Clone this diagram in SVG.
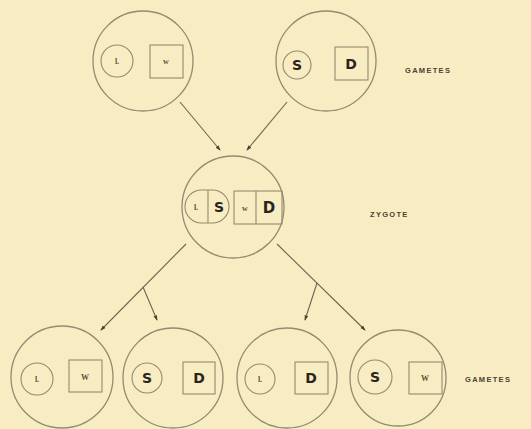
<svg xmlns="http://www.w3.org/2000/svg" width="531" height="429" viewBox="0 0 531 429">
<defs>
<style>
.bg{fill:#f8ecc2}
.c{fill:none;stroke:#948a70;stroke-width:1.3}
.i{fill:none;stroke:#948a70;stroke-width:1.1}
.ln{fill:none;stroke:#6e6450;stroke-width:1.1}
.b{font-family:"DejaVu Sans",sans-serif;font-weight:bold;font-size:14px;fill:#2a251c;text-anchor:middle}
.s{font-family:"Liberation Serif",serif;font-weight:bold;font-size:8px;fill:#5a5240;text-anchor:middle}
.lab{font-family:"Liberation Sans",sans-serif;font-weight:bold;font-size:7.5px;letter-spacing:1.3px;fill:#4a4332}
</style>
<marker id="a" viewBox="0 0 6 6" refX="5" refY="3" markerWidth="5" markerHeight="5" orient="auto">
<path d="M0,1 L6,3 L0,5 z" fill="#4a4332"/>
</marker>
</defs>
<rect class="bg" x="0" y="0" width="531" height="429"/>
<g id="connectors">
<line class="ln" x1="180" y1="102" x2="220" y2="150" marker-end="url(#a)"/>
<line class="ln" x1="287" y1="102" x2="247" y2="150" marker-end="url(#a)"/>
<line class="ln" x1="186" y1="244" x2="101" y2="330" marker-end="url(#a)"/>
<line class="ln" x1="143" y1="287" x2="157" y2="320" marker-end="url(#a)"/>
<line class="ln" x1="277" y1="244" x2="365" y2="330" marker-end="url(#a)"/>
<line class="ln" x1="317" y1="283" x2="305" y2="320" marker-end="url(#a)"/>
</g>
<g id="gamete-top-left">
<circle class="c" cx="143" cy="61" r="50"/>
<circle class="i" cx="117" cy="61" r="16"/>
<text class="s" x="117" y="64">l.</text>
<rect class="i" x="150" y="45" width="33" height="33"/>
<text class="s" x="166" y="64">w</text>
</g>
<g id="gamete-top-right">
<circle class="c" cx="326" cy="61" r="50"/>
<circle class="i" cx="297" cy="65" r="14"/>
<text class="b" x="297" y="70">S</text>
<rect class="i" x="335" y="47" width="33" height="33"/>
<text class="b" x="351" y="69">D</text>
</g>
<text id="label-gametes-top" class="lab" x="405" y="73">GAMETES</text>
<g id="zygote">
<circle class="c" cx="233" cy="207" r="51"/>
<path class="i" d="M201.5,190 H212.5 A16.5,16.5 0 0 1 212.5,223 H201.5 A16.5,16.5 0 0 1 201.5,190 Z"/>
<line class="i" x1="208" y1="190" x2="208" y2="223"/>
<text class="s" x="196" y="210">l.</text>
<text class="b" x="219" y="212">S</text>
<rect class="i" x="234" y="191" width="48" height="33"/>
<line class="i" x1="256" y1="191" x2="256" y2="224"/>
<text class="s" x="245" y="211">w</text>
<text class="b" x="269" y="213" style="font-size:15px">D</text>
</g>
<text id="label-zygote" class="lab" x="370" y="217">ZYGOTE</text>
<g id="gamete-bottom-1">
<circle class="c" cx="62" cy="377" r="51"/>
<circle class="i" cx="37" cy="379" r="16"/>
<text class="s" x="37" y="382">l.</text>
<rect class="i" x="69" y="360" width="33" height="32"/>
<text class="s" x="85" y="380">W</text>
</g>
<g id="gamete-bottom-2">
<circle class="c" cx="173" cy="378" r="50"/>
<circle class="i" cx="147" cy="378" r="15"/>
<text class="b" x="147" y="383">S</text>
<rect class="i" x="183" y="362" width="32" height="32"/>
<text class="b" x="199" y="383">D</text>
</g>
<g id="gamete-bottom-3">
<circle class="c" cx="287" cy="378" r="50"/>
<circle class="i" cx="260" cy="379" r="15"/>
<text class="s" x="260" y="382">l.</text>
<rect class="i" x="295" y="362" width="33" height="32"/>
<text class="b" x="311" y="383">D</text>
</g>
<g id="gamete-bottom-4">
<circle class="c" cx="398" cy="378" r="48"/>
<circle class="i" cx="375" cy="377" r="17"/>
<text class="b" x="375" y="382">S</text>
<rect class="i" x="409" y="362" width="33" height="32"/>
<text class="s" x="425" y="381">W</text>
</g>
<text id="label-gametes-bottom" class="lab" x="465" y="382">GAMETES</text>
</svg>
